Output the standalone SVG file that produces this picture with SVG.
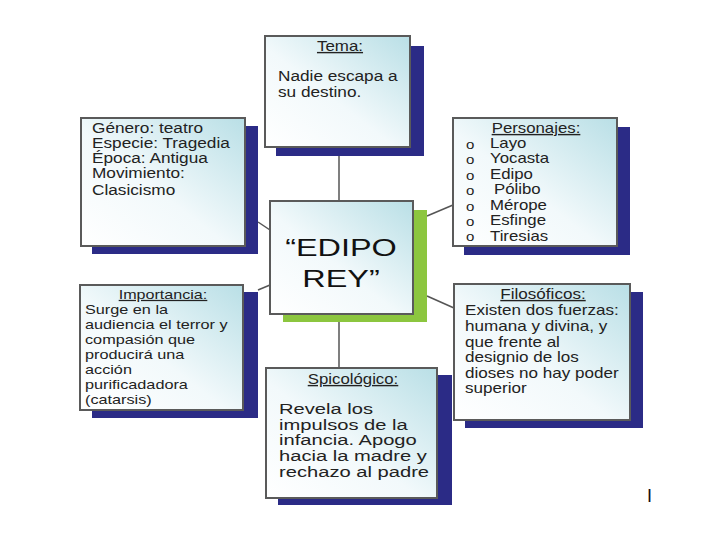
<svg xmlns="http://www.w3.org/2000/svg" width="720" height="540" viewBox="0 0 720 540">
<defs>
<linearGradient id="g" x1="0" y1="1" x2="1" y2="0">
<stop offset="0" stop-color="#ffffff"/>
<stop offset="0.45" stop-color="#f2f9fb"/>
<stop offset="1" stop-color="#b9dfe6"/>
</linearGradient>
<style>
.box{fill:url(#g);stroke:#5a5a5a;stroke-width:2}
.sh{fill:#2b2b86}
.shg{fill:#8cc63f}
.t{font-family:"Liberation Sans",Arial,sans-serif;font-size:14px;fill:#222}
.s{font-size:12.5px}
.p{font-size:14.5px}
.h{text-decoration:underline;text-anchor:middle}
.big{font-family:"Liberation Sans",Arial,sans-serif;font-size:24px;fill:#111;text-anchor:middle}
.c{stroke:#555;stroke-width:1.5;fill:none}
</style>
</defs>
<rect width="720" height="540" fill="#fff"/>
<g id="connectors">
<line class="c" x1="339" y1="147" x2="339" y2="201"/>
<line class="c" x1="339" y1="314" x2="339" y2="368"/>
<line class="c" x1="258" y1="222" x2="270" y2="230"/>
<line class="c" x1="258" y1="290" x2="270" y2="285"/>
<line class="c" x1="427" y1="216" x2="453" y2="205"/>
<line class="c" x1="427" y1="296" x2="454" y2="308"/>
</g>
<g id="tema">
<rect class="sh" x="276" y="46" width="148" height="110"/>
<rect class="box" x="265" y="36" width="145" height="111"/>
<text class="t h" transform="translate(340 51) scale(1.21 1)">Tema:</text>
<g transform="translate(278 0) scale(1.23 1)">
<text class="t" x="0" y="81">Nadie escapa a</text>
<text class="t" x="0" y="97">su destino.</text>
</g>
</g>
<g id="genero">
<rect class="sh" x="92" y="126" width="166" height="128"/>
<rect class="box" x="81" y="118" width="164" height="128"/>
<g transform="translate(92 0) scale(1.23 1)">
<text class="t" x="0" y="133">Género: teatro</text>
<text class="t" x="0" y="148">Especie: Tragedia</text>
<text class="t" x="0" y="163">Época: Antigua</text>
<text class="t" x="0" y="178">Movimiento:</text>
<text class="t" x="0" y="195">Clasicismo</text>
</g>
</g>
<g id="personajes">
<rect class="sh" x="464" y="127" width="166" height="128"/>
<rect class="box" x="453" y="118" width="164" height="128"/>
<text class="t h" transform="translate(536 133) scale(1.2 1)">Personajes:</text>
<g transform="translate(490 0) scale(1.2 1)">
<g class="t s">
<text x="-20" y="149">o</text><text x="-20" y="164">o</text><text x="-20" y="180">o</text><text x="-20" y="195">o</text><text x="-20" y="211">o</text><text x="-20" y="226">o</text><text x="-20" y="241">o</text>
</g>
<text class="t" x="0" y="148">Layo</text>
<text class="t" x="0" y="163">Yocasta</text>
<text class="t" x="0" y="179">Edipo</text>
<text class="t" x="3.3" y="194">Pólibo</text>
<text class="t" x="0" y="210">Mérope</text>
<text class="t" x="0" y="225">Esfinge</text>
<text class="t" x="0" y="241">Tiresias</text>
</g>
</g>
<g id="centro">
<rect class="shg" x="283" y="210" width="144" height="112"/>
<rect class="box" x="270" y="201" width="143" height="113"/>
<g transform="translate(341 0) scale(1.35 1)">
<text class="big" x="0" y="256">“EDIPO</text>
<text class="big" x="0" y="287">REY”</text>
</g>
</g>
<g id="importancia">
<rect class="sh" x="92" y="292" width="166" height="126"/>
<rect class="box" x="80" y="285" width="163" height="125"/>
<text class="t h s" transform="translate(163 299) scale(1.29 1)">Importancia:</text>
<g transform="translate(85 0) scale(1.3 1)">
<text class="t s" x="0" y="314">Surge en la</text>
<text class="t s" x="0" y="329">audiencia el terror y</text>
<text class="t s" x="0" y="344">compasión que</text>
<text class="t s" x="0" y="359">producirá una</text>
<text class="t s" x="0" y="374">acción</text>
<text class="t s" x="0" y="389">purificadadora</text>
<text class="t s" x="0" y="404">(catarsis)</text>
</g>
</g>
<g id="filosoficos">
<rect class="sh" x="465" y="292" width="178" height="136"/>
<rect class="box" x="454" y="284" width="176" height="136"/>
<text class="t h" transform="translate(543 299) scale(1.22 1)">Filosóficos:</text>
<g transform="translate(465 0) scale(1.22 1)">
<text class="t" x="0" y="315">Existen dos fuerzas:</text>
<text class="t" x="0" y="331">humana y divina, y</text>
<text class="t" x="0" y="347">que frente al</text>
<text class="t" x="0" y="362">designio de los</text>
<text class="t" x="0" y="378">dioses no hay poder</text>
<text class="t" x="0" y="393">superior</text>
</g>
</g>
<g id="psicologico">
<rect class="sh" x="278" y="375" width="174" height="130"/>
<rect class="box" x="266" y="368" width="171" height="130"/>
<text class="t h" transform="translate(353 384) scale(1.2 1)">Spicológico:</text>
<g transform="translate(279 0) scale(1.39 1)">
<text class="t p" x="0" y="414">Revela los</text>
<text class="t p" x="0" y="430">impulsos de la</text>
<text class="t p" x="0" y="445">infancia. Apogo</text>
<text class="t p" x="0" y="461">hacia la madre y</text>
<text class="t p" x="0" y="477">rechazo al padre</text>
</g>
</g>
<text x="647" y="502" font-family="Liberation Sans,Arial,sans-serif" font-size="18" fill="#111">I</text>
</svg>
